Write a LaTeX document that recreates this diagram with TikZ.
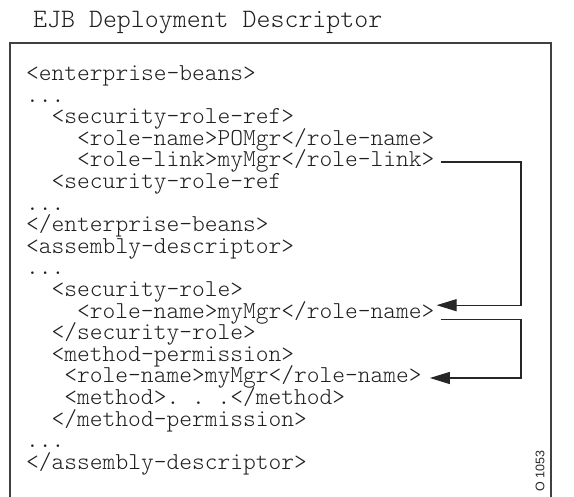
\documentclass[tikz,border=0pt]{standalone}
\usepackage{fontspec}
\setmonofont{Latin Modern Mono Light}
\setsansfont{Liberation Sans}
\usetikzlibrary{arrows.meta,calc}
\begin{document}
\begin{tikzpicture}[x=1pt,y=-1pt,
  code/.style={anchor=base west,inner sep=0pt,text height=14pt,text depth=4pt,font=\ttfamily\fontsize{24.3}{25}\selectfont,text=black!88},
  conn/.style={line width=1.2pt,draw=black!85},
  tip/.style={-{Triangle[length=20pt,width=12pt]}},
  frame/.style={line width=1.4pt,draw=black!75}]
\useasboundingbox (0,0) rectangle (574,497);
\def\cw{12.75}
\node[anchor=base west,inner sep=0pt,font=\ttfamily\fontsize{26.6}{27}\selectfont,text=black!88] (title) at (33,28) {EJB Deployment Descriptor};
\draw[frame] (10,505) -- (10,43) -- (551,43) -- (551,505);
\node[code] (l1)  at (26+0*\cw, 80.6+0*21.6)  {<enterprise-beans>};
\node[code] (l2)  at (26+0*\cw, 80.6+1*21.6)  {...};
\node[code] (l3)  at (26+2*\cw, 80.6+2*21.6)  {<security-role-ref>};
\node[code] (l4)  at (26+4*\cw, 80.6+3*21.6)  {<role-name>POMgr</role-name>};
\node[code] (l5)  at (26+4*\cw, 80.6+4*21.6)  {<role-link>myMgr</role-link>};
\node[code] (l6)  at (26+2*\cw, 80.6+5*21.6)  {<security-role-ref};
\node[code] (l7)  at (26+0*\cw, 80.6+6*21.6)  {...};
\node[code] (l8)  at (26+0*\cw, 80.6+7*21.6)  {</enterprise-beans>};
\node[code] (l9)  at (26+0*\cw, 80.6+8*21.6)  {<assembly-descriptor>};
\node[code] (l10) at (26+0*\cw, 80.6+9*21.6)  {...};
\node[code] (l11) at (26+2*\cw, 80.6+10*21.6) {<security-role>};
\node[code] (l12) at (26+4*\cw, 80.6+11*21.6) {<role-name>myMgr</role-name>};
\node[code] (l13) at (26+2*\cw, 80.6+12*21.6) {</security-role>};
\node[code] (l14) at (26+2*\cw, 80.6+13*21.6) {<method-permission>};
\node[code] (l15) at (26+3*\cw, 80.6+14*21.6) {<role-name>myMgr</role-name>};
\node[code] (l16) at (26+3*\cw, 80.6+15*21.6) {<method>. . .</method>};
\node[code] (l17) at (26+2*\cw, 80.6+16*21.6) {</method-permission>};
\node[code] (l18) at (26+0*\cw, 80.6+17*21.6) {...};
\node[code] (l19) at (26+0*\cw, 80.6+18*21.6) {</assembly-descriptor>};
\coordinate (rail) at (521,0);
\coordinate (s1) at ($(l5.base east)+(6,-5)$);
\coordinate (t1) at ($(l12.base east)+(2,-13)$);
\coordinate (s2) at ($(l12.base east)+(6,1)$);
\coordinate (t2) at ($(l15.base east)+(8,-5)$);
\draw[conn,tip] (s1) -- (s1 -| rail) -- (t1 -| rail) -- (t1);
\draw[conn,tip] (s2) -- (s2 -| rail) -- (t2 -| rail) -- (t2);
\node[anchor=east,rotate=90,inner sep=0pt,font=\sffamily\fontsize{12.5}{12.5}\selectfont,text=black!85] (fig) at (540,450) {O 1053};
\end{tikzpicture}
\end{document}
